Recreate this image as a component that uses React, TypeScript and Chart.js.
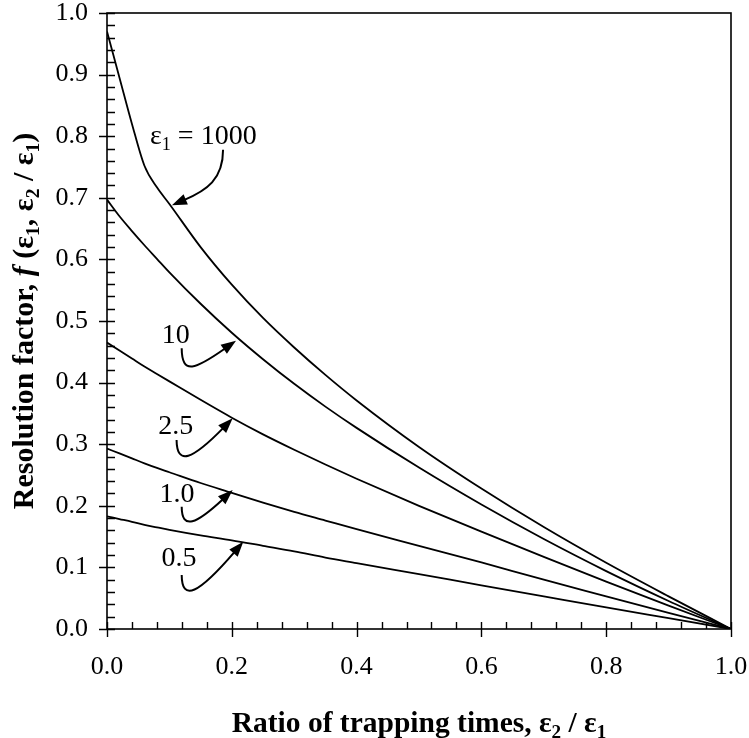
import React, { useEffect, useRef } from "react";
import { Chart, registerables } from "chart.js";

Chart.register(...registerables);

// ---------- data ----------
const X_RATIO = [0, 0.02, 0.04, 0.06, 0.08, 0.1, 0.15, 0.2, 0.25, 0.3, 0.35, 0.4, 0.5, 0.6, 0.7, 0.8, 0.9, 1.0];
const F_1000 = [0.970, 0.895, 0.820, 0.752, 0.717, 0.690, 0.620, 0.559, 0.505, 0.457, 0.4125, 0.371, 0.2955, 0.228, 0.1655, 0.1075, 0.053, 0];
const F_10 = [0.697, 0.670, 0.646, 0.623, 0.601, 0.579, 0.528, 0.481, 0.438, 0.398, 0.361, 0.3265, 0.262, 0.202, 0.146, 0.094, 0.0455, 0];
const F_2_5 = [0.465, 0.452, 0.439, 0.426, 0.414, 0.402, 0.372, 0.343, 0.316, 0.291, 0.267, 0.244, 0.200, 0.158, 0.117, 0.077, 0.038, 0];
const F_1_0 = [0.293, 0.285, 0.277, 0.269, 0.2615, 0.2545, 0.237, 0.221, 0.205, 0.190, 0.176, 0.162, 0.135, 0.108, 0.080, 0.053, 0.026, 0];
const F_0_5 = [0.183, 0.1785, 0.174, 0.169, 0.165, 0.161, 0.152, 0.144, 0.135, 0.126, 0.116, 0.107, 0.089, 0.071, 0.053, 0.035, 0.0175, 0];

const SERIES = [F_1000, F_10, F_2_5, F_1_0, F_0_5];
const SERIES_NAMES = ["ε1 = 1000", "10", "2.5", "1.0", "0.5"];

const X_MIN = 0, X_MAX = 1, X_STEP = 0.2, X_MINOR = 0.04;
const Y_MIN = 0, Y_MAX = 1, Y_STEP = 0.1, Y_MINOR = 0.02;

type Seg = { t: string; sub?: boolean; it?: boolean };

const X_TITLE: Seg[] = [
  { t: "Ratio of trapping times, ε" }, { t: "2", sub: true }, { t: " / ε" }, { t: "1", sub: true },
];
const Y_TITLE: Seg[] = [
  { t: "Resolution factor, " }, { t: "f", it: true }, { t: " (ε" }, { t: "1", sub: true },
  { t: ", ε" }, { t: "2", sub: true }, { t: " / ε" }, { t: "1", sub: true }, { t: ")" },
];

// callouts: label (anchor in data coords) and curved arrow (cubic, data coords, ends at tip)
const CALLOUTS: { label: Seg[]; align: "left" | "center"; at: [number, number]; path: [number, number][] }[] = [
  { label: [{ t: "ε" }, { t: "1", sub: true }, { t: " = 1000" }], align: "left", at: [0.0689, 0.7873],
    path: [[0.186, 0.778], [0.186, 0.730], [0.160, 0.712], [0.104, 0.688]] },
  { label: [{ t: "10" }], align: "center", at: [0.1101, 0.4643],
    path: [[0.1197, 0.4557], [0.120, 0.412], [0.141, 0.421], [0.2067, 0.468]] },
  { label: [{ t: "2.5" }], align: "center", at: [0.1103, 0.316],
    path: [[0.1115, 0.3068], [0.112, 0.265], [0.136, 0.274], [0.2014, 0.342]] },
  { label: [{ t: "1.0" }], align: "center", at: [0.1122, 0.2067],
    path: [[0.1197, 0.1985], [0.120, 0.160], [0.1426, 0.170], [0.2014, 0.2256]] },
  { label: [{ t: "0.5" }], align: "center", at: [0.1154, 0.1028],
    path: [[0.1197, 0.0877], [0.120, 0.044], [0.1458, 0.056], [0.2184, 0.1417]] },
];

const FONT = '"Liberation Serif", "Times New Roman", serif';

function segFont(size: number, bold: boolean, s: Seg) {
  const sz = s.sub ? size * 0.65 : size;
  return `${s.it ? "italic " : ""}${bold ? "bold " : ""}${sz}px ${FONT}`;
}
function richWidth(ctx: CanvasRenderingContext2D, segs: Seg[], size: number, bold: boolean) {
  let w = 0;
  for (const s of segs) { ctx.font = segFont(size, bold, s); w += ctx.measureText(s.t).width; }
  return w;
}
function drawRich(ctx: CanvasRenderingContext2D, segs: Seg[], x: number, y: number, size: number, bold: boolean, align: string) {
  const w = richWidth(ctx, segs, size, bold);
  let cx = align === "center" ? x - w / 2 : align === "right" ? x - w : x;
  ctx.textAlign = "left";
  ctx.textBaseline = "alphabetic";
  for (const s of segs) {
    ctx.font = segFont(size, bold, s);
    ctx.fillText(s.t, cx, y + (s.sub ? size * 0.2 : 0));
    cx += ctx.measureText(s.t).width;
  }
}

const decorPlugin = {
  id: "decor",
  afterDraw(chart: any) {
    const { ctx, chartArea: a, scales } = chart;
    const xs = scales.x, ys = scales.y;
    ctx.save();
    ctx.strokeStyle = "#000";
    ctx.fillStyle = "#000";
    // frame
    ctx.lineWidth = 1.6;
    ctx.strokeRect(a.left, a.top, a.right - a.left, a.bottom - a.top);
    // ticks
    const nx = Math.round((X_MAX - X_MIN) / X_MINOR);
    const perMajorX = Math.round(X_STEP / X_MINOR);
    ctx.lineWidth = 1.4;
    ctx.beginPath();
    for (let i = 0; i <= nx; i++) {
      const px = Math.round(xs.getPixelForValue(X_MIN + i * X_MINOR)) + 0.5;
      const major = i % perMajorX === 0;
      ctx.moveTo(px, a.bottom - 7);
      ctx.lineTo(px, major ? a.bottom + 8 : a.bottom);
    }
    const ny = Math.round((Y_MAX - Y_MIN) / Y_MINOR);
    const perMajorY = Math.round(Y_STEP / Y_MINOR);
    for (let i = 0; i <= ny; i++) {
      const py = Math.round(ys.getPixelForValue(Y_MIN + i * Y_MINOR)) + 0.5;
      const major = i % perMajorY === 0;
      ctx.moveTo(a.left + 8, py);
      ctx.lineTo(major ? a.left - 8 : a.left, py);
    }
    ctx.stroke();

    // callouts
    for (const c of CALLOUTS) {
      drawRich(ctx, c.label, xs.getPixelForValue(c.at[0]), ys.getPixelForValue(c.at[1]), 28, false, c.align);
      const p = c.path.map(([vx, vy]) => [xs.getPixelForValue(vx), ys.getPixelForValue(vy)]);
      const [p0, p1, p2, p3] = p;
      const dx = p3[0] - p2[0], dy = p3[1] - p2[1];
      const len = Math.hypot(dx, dy) || 1;
      const ux = dx / len, uy = dy / len;
      const headL = 15, headW = 5.5;
      const bx = p3[0] - ux * headL, by = p3[1] - uy * headL;
      ctx.lineWidth = 2;
      ctx.beginPath();
      ctx.moveTo(p0[0], p0[1]);
      ctx.bezierCurveTo(p1[0], p1[1], p2[0], p2[1], bx + ux * 2, by + uy * 2);
      ctx.stroke();
      ctx.beginPath();
      ctx.moveTo(p3[0], p3[1]);
      ctx.lineTo(bx - uy * headW, by + ux * headW);
      ctx.lineTo(bx + uy * headW, by - ux * headW);
      ctx.closePath();
      ctx.fill();
    }

    // axis titles
    drawRich(ctx, X_TITLE, (a.left + a.right) / 2, 732, 29.5, true, "center");
    ctx.save();
    ctx.translate(33, (a.top + a.bottom) / 2);
    ctx.rotate(-Math.PI / 2);
    drawRich(ctx, Y_TITLE, 0, 0, 30, true, "center");
    ctx.restore();
    ctx.restore();
  },
};

export default function App() {
  const ref = useRef<HTMLCanvasElement>(null);
  useEffect(() => {
    const datasets = SERIES.map((ys, k) => ({
      label: SERIES_NAMES[k],
      data: X_RATIO.map((x, i) => ({ x, y: ys[i] })),
      showLine: true,
      borderColor: "#000",
      backgroundColor: "#000",
      borderWidth: 1.8,
      pointRadius: 0,
      cubicInterpolationMode: "monotone" as const,
      fill: false,
    }));
    const tickFont = { family: FONT, size: 26, lineHeight: 1 };
    const chart = new Chart(ref.current!, {
      type: "scatter",
      data: { datasets },
      options: {
        animation: false,
        responsive: false,
        layout: { padding: { left: 0, right: 18, top: 13, bottom: 0 } },
        plugins: { legend: { display: false }, tooltip: { enabled: false } },
        scales: {
          x: {
            type: "linear", min: X_MIN, max: X_MAX,
            ticks: { stepSize: X_STEP, callback: (v: any) => Number(v).toFixed(1), font: tickFont, color: "#000", padding: 0, maxRotation: 0, autoSkip: false },
            grid: { display: false, drawTicks: true, tickLength: 25 },
            border: { display: false },
            afterFit: (s: any) => { s.height = 109; },
          },
          y: {
            type: "linear", min: Y_MIN, max: Y_MAX,
            ticks: { stepSize: Y_STEP, callback: (v: any) => Number(v).toFixed(1), font: tickFont, color: "#000", padding: 0, autoSkip: false },
            grid: { display: false, drawTicks: true, tickLength: 19 },
            border: { display: false },
            afterFit: (s: any) => { s.width = 107; },
          },
        },
      },
      plugins: [decorPlugin],
    });
    return () => chart.destroy();
  }, []);
  return (
    <div style={{ position: "fixed", left: 0, top: 0, width: 749, height: 738, background: "#fff" }}>
      <canvas ref={ref} width={749} height={738} style={{ width: 749, height: 738, display: "block" }} />
    </div>
  );
}
